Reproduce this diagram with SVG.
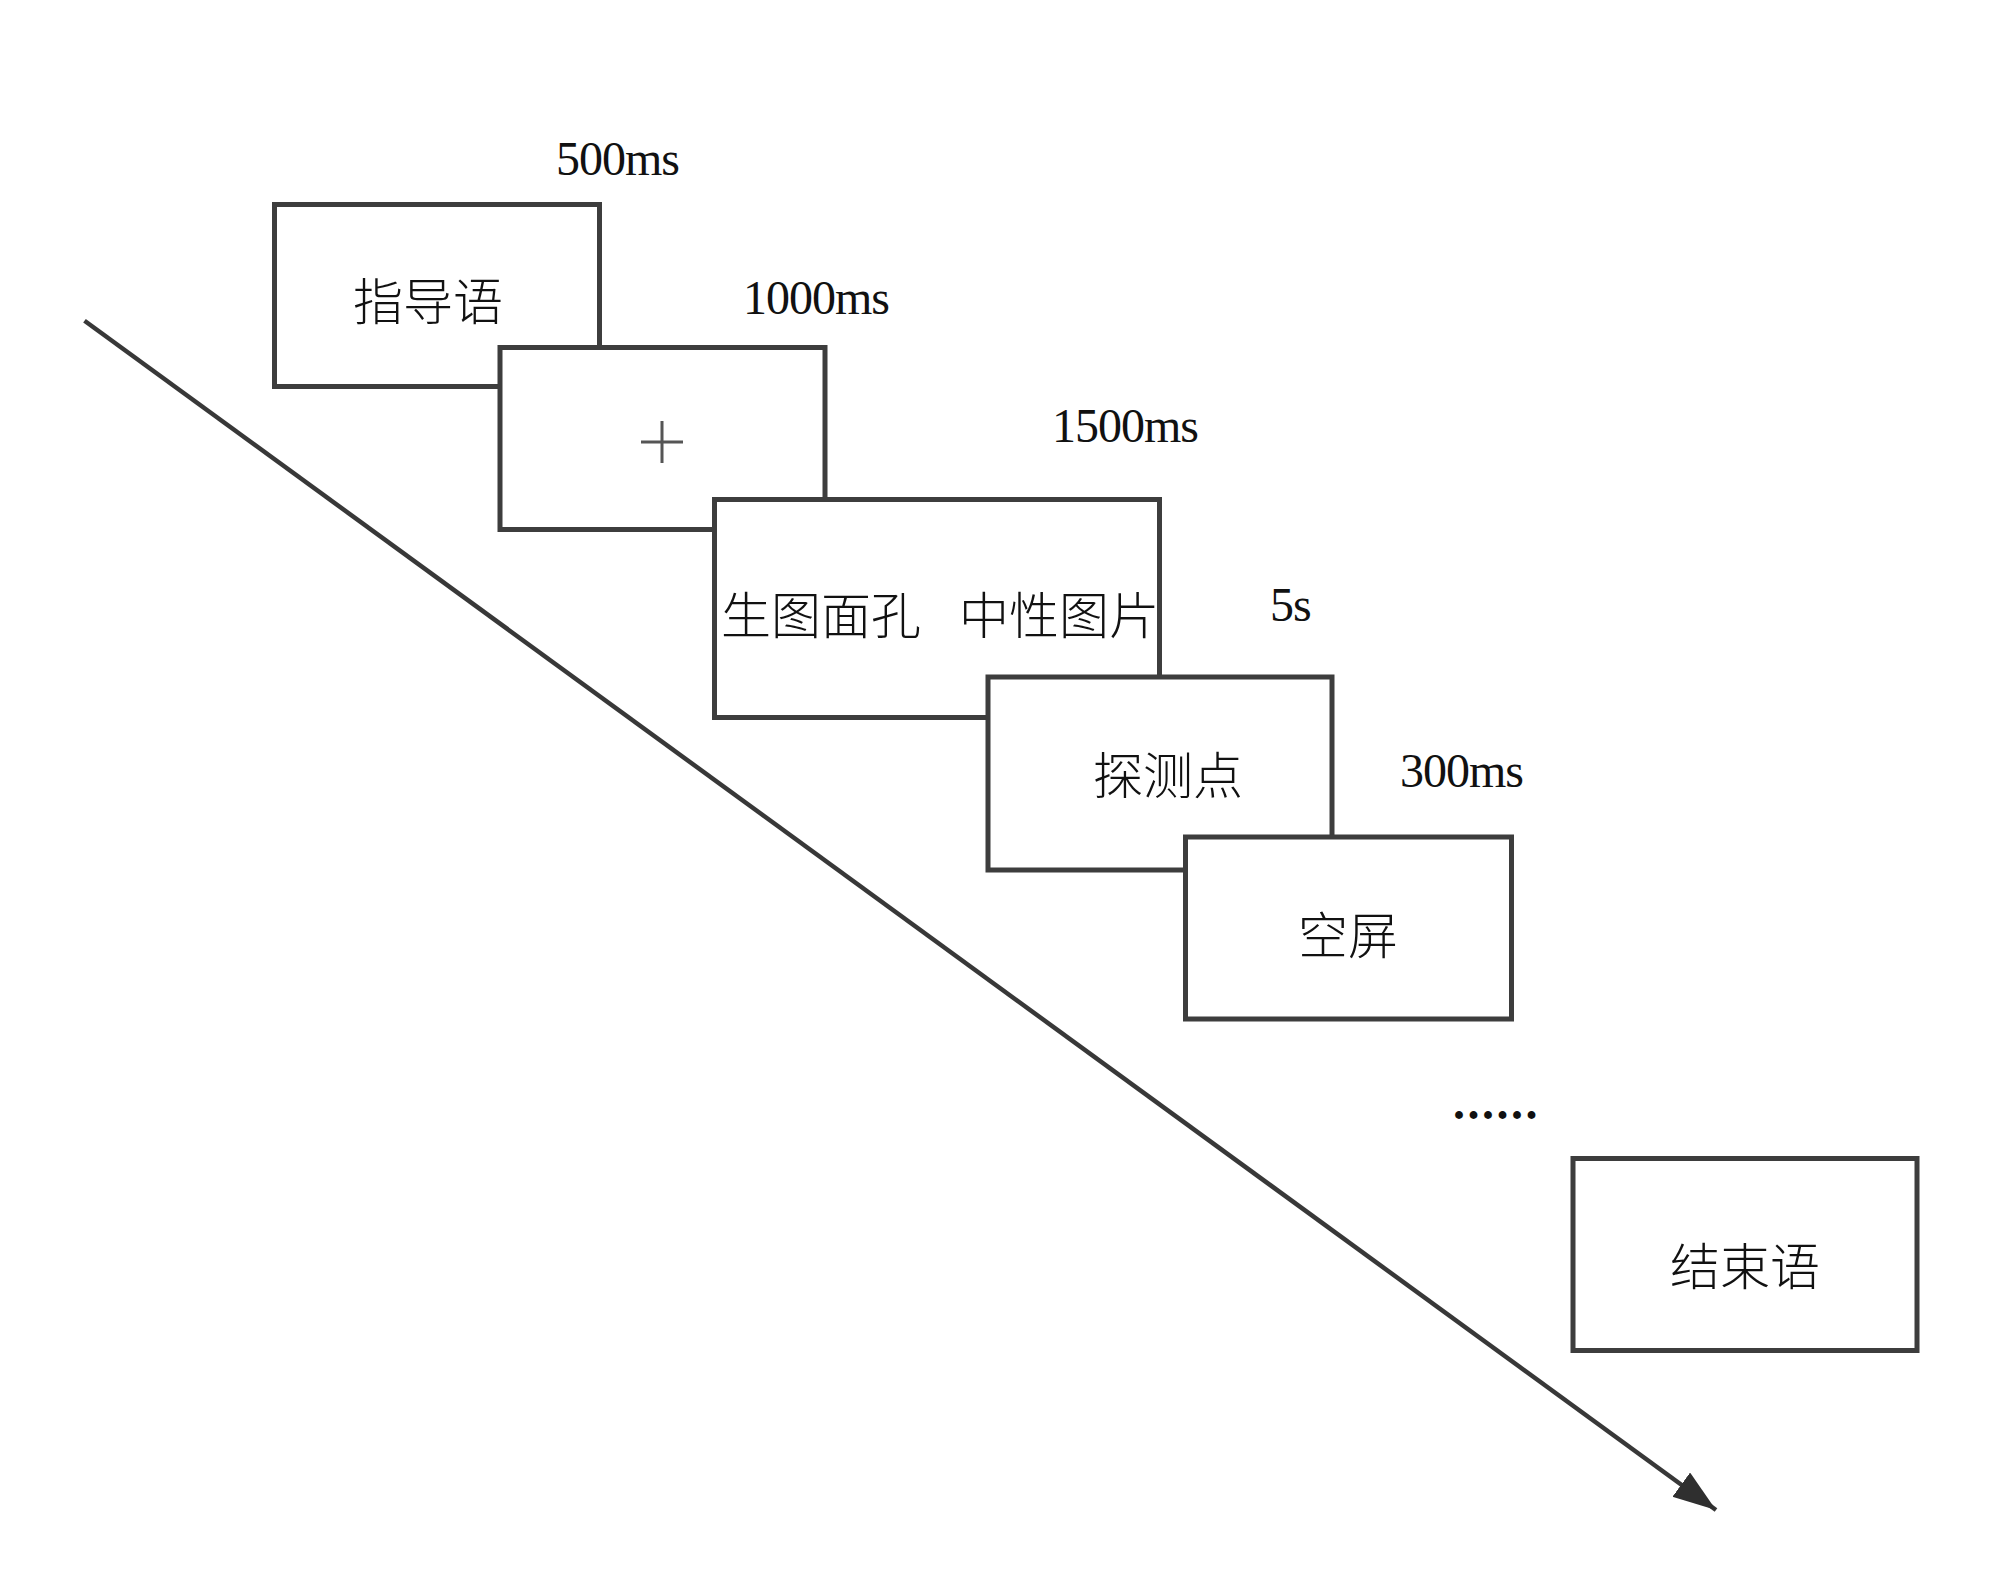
<svg xmlns="http://www.w3.org/2000/svg" width="2000" height="1588" viewBox="0 0 2000 1588">
<style>
.box{fill:#fff;stroke:#3d3d3d;stroke-width:5}
.cjk{font-family:"Noto Sans CJK SC",sans-serif;font-size:50px;font-weight:300;fill:#111}
.lat{font-family:"Liberation Serif",serif;font-size:48px;fill:#111;letter-spacing:-1px}
.conn{stroke:#383838;stroke-width:4.5;fill:none}
</style>
<defs>
<marker id="arr" markerUnits="userSpaceOnUse" markerWidth="50" markerHeight="34" refX="43" refY="15" orient="auto">
<path d="M0,0 L43,15 L0,30 Z" fill="#2f2f2f"/>
</marker>
</defs>
<rect width="2000" height="1588" fill="#fff"/>
<g id="connectors">
<line class="conn" x1="84.5" y1="320.7" x2="1716" y2="1510" marker-end="url(#arr)"/>
</g>
<g id="node-instruction">
<rect class="box" x="274.5" y="204.5" width="325" height="182"/>
<text class="cjk" x="428" y="320" text-anchor="middle">指导语</text>
</g>
<text class="lat" x="556" y="175">500ms</text>
<g id="node-fixation">
<rect class="box" x="500" y="347.5" width="325" height="182"/>
<path d="M641,442 H683 M662,421 V463" stroke="#555" stroke-width="3"/>
</g>
<text class="lat" x="743" y="314">1000ms</text>
<g id="node-faces">
<rect class="box" x="714.5" y="499.5" width="445" height="218"/>
<text class="cjk" x="721" y="634">生图面孔<tspan x="959">中性图片</tspan></text>
</g>
<text class="lat" x="1052" y="442">1500ms</text>
<g id="node-probe">
<rect class="box" x="988" y="677" width="344" height="193"/>
<text class="cjk" x="1168" y="794" text-anchor="middle">探测点</text>
</g>
<text class="lat" x="1270" y="621">5s</text>
<g id="node-blank">
<rect class="box" x="1185.5" y="837" width="326" height="182"/>
<text class="cjk" x="1348" y="954" text-anchor="middle">空屏</text>
</g>
<text class="lat" x="1400" y="787">300ms</text>
<text class="lat" x="1453" y="1119" style="letter-spacing:2.5px;font-weight:bold">......</text>
<g id="node-end">
<rect class="box" x="1573" y="1158.5" width="344" height="192"/>
<text class="cjk" x="1745" y="1285" text-anchor="middle">结束语</text>
</g>
</svg>
